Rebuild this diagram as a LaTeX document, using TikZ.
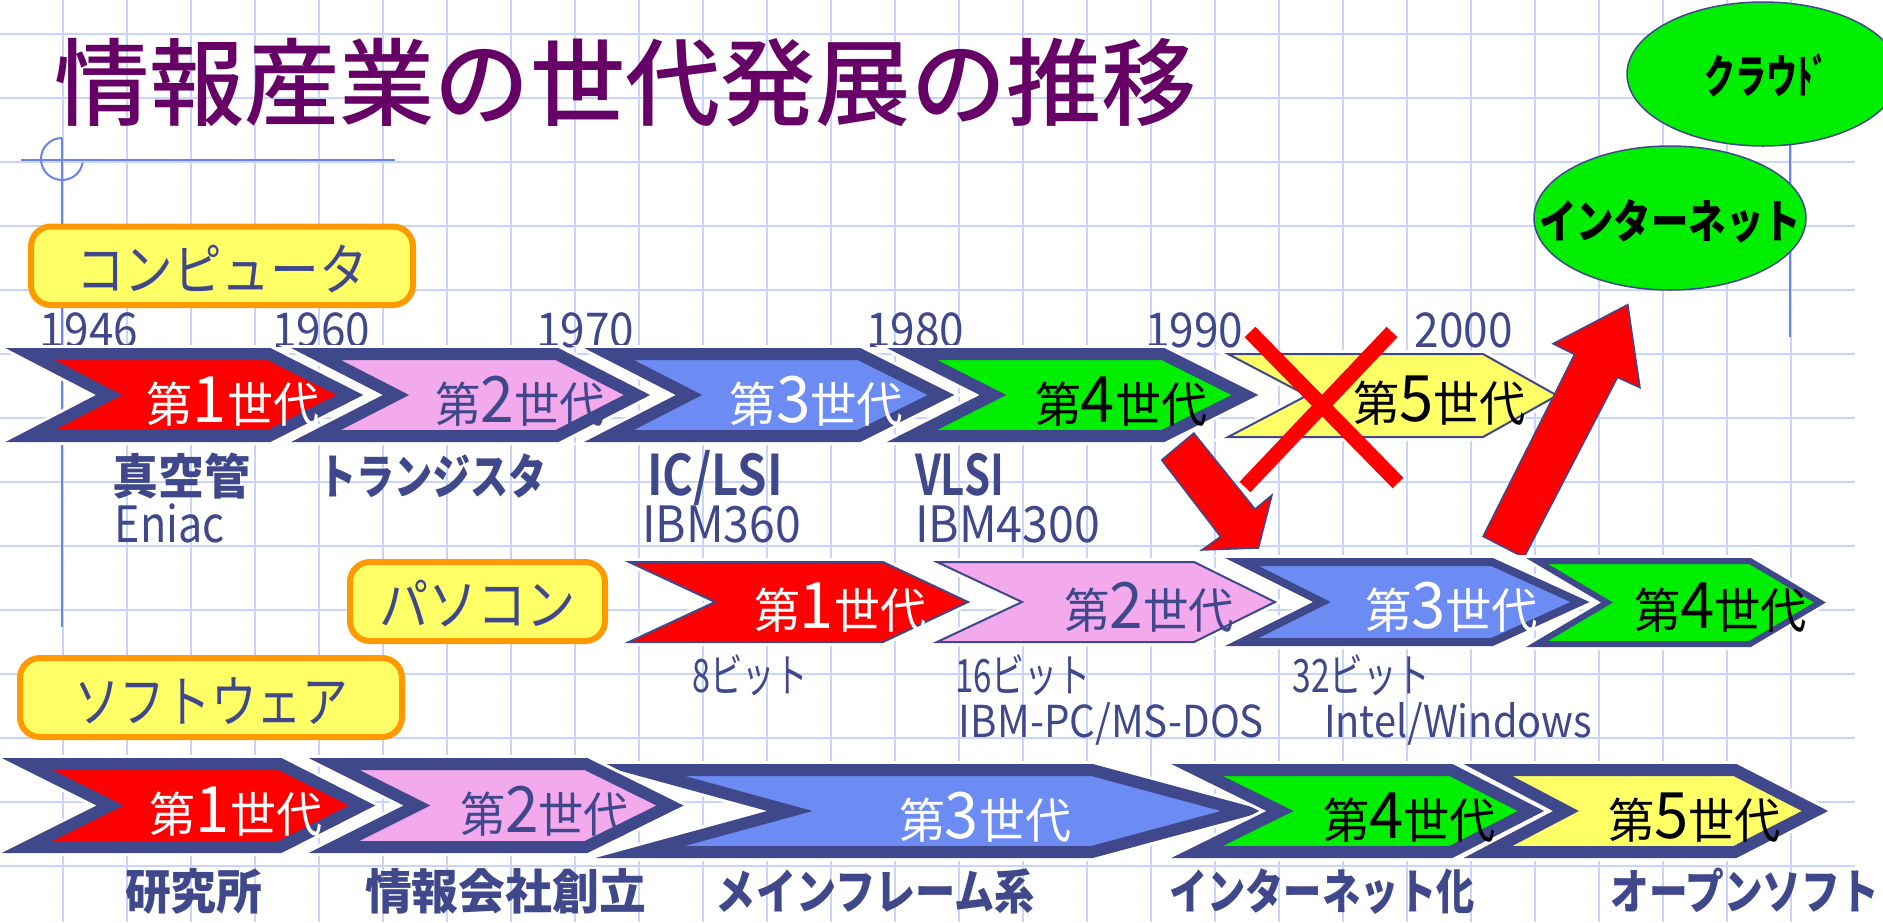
\documentclass[tikz,border=0pt]{standalone}
\usepackage{fontspec}
\setmainfont{Noto Sans CJK JP}[BoldFont={Noto Sans CJK JP Bold}]
\newfontfamily\heavy{Noto Sans CJK JP Black}
\newfontfamily\medw{Noto Sans CJK JP Medium}
\definecolor{navy}{HTML}{40488C}
\definecolor{cred}{HTML}{FF0000}
\definecolor{cpink}{HTML}{F2AAEC}
\definecolor{cblue}{HTML}{6C8CF4}
\definecolor{cgreen}{HTML}{00EE00}
\definecolor{cyel}{HTML}{FFFF66}
\definecolor{corange}{HTML}{FF9900}
\definecolor{gridc}{HTML}{C8D4F8}
\definecolor{deco}{HTML}{6B84E8}
\definecolor{ttl}{HTML}{660066}
\newcommand{\fw}[2]{\resizebox{#1pt}{\height}{#2}}
\newcommand{\gen}[1]{{\fontsize{48}{48}\selectfont 第}{\fontsize{64}{64}\selectfont #1}{\fontsize{48}{48}\selectfont 世代}}
% #1 fill, #2 line width, #3 xl, #4 xnotch, #5 xr, #6 xtip, #7 ytop, #8 ybottom
\newcommand{\chevshape}[8]{%
  \draw[white, line width=#2+6pt, line join=miter] (#3,#7) -- (#5,#7) -- (#6,{(#7+#8)/2}) -- (#5,#8) -- (#3,#8) -- (#4,{(#7+#8)/2}) -- cycle;
  \draw[draw=navy, fill=#1, line width=#2, line join=miter] (#3,#7) -- (#5,#7) -- (#6,{(#7+#8)/2}) -- (#5,#8) -- (#3,#8) -- (#4,{(#7+#8)/2}) -- cycle;
}
\begin{document}
\begin{tikzpicture}[x=1pt,y=-1pt,
  lbl/.style={inner sep=0pt, anchor=base, text=navy},
  catbox/.style={draw=corange, fill=cyel, line width=6pt, rounded corners=20pt},
  redarrow/.style={draw=navy, fill=cred, line width=1.5pt, line join=miter},
  bigx/.style={draw=cred, line width=15pt},
  bubble/.style={draw=navy, fill=cgreen, line width=1.5pt}]
\useasboundingbox (0,0) rectangle (1883,922);
\fill[white] (0,0) rectangle (1883,922);
% grid
\foreach \k in {1,...,28} \draw[gridc, line width=2pt] ({-1.5+64*\k},0) -- ({-1.5+64*\k},922);
\foreach \k in {0,...,13} \draw[gridc, line width=2pt] (0,{33.5+64*\k}) -- (1854.5,{33.5+64*\k});
% decorations
\draw[deco, line width=2pt] (62,138) -- (62,627);
\draw[deco, line width=2pt] (21,160) -- (395,160);
\draw[deco, line width=2pt] (62,138) arc[start angle=270, end angle=10, radius=21];
\draw[deco, line width=2pt] (1790,100) -- (1790,337);
% title
\node[inner sep=0pt, anchor=base, text=ttl] (title) at (625.5,118) {\fw{1143}{\medw\fontsize{95}{95}\selectfont 情報産業の世代発展の推移}};
% category boxes
\draw[catbox] (31,226.5) rectangle (413,305);
\node[lbl, font=\fontsize{56}{56}\selectfont] (comp) at (222,290) {\fw{292}{コンピュータ}};
\draw[catbox] (350,562) rectangle (605,641);
\node[lbl, font=\fontsize{56}{56}\selectfont] (pc) at (477.5,625) {\fw{197}{パソコン}};
\draw[catbox] (20,658) rectangle (402,737);
\node[lbl, font=\fontsize{56}{56}\selectfont] (soft) at (211,722) {\fw{274}{ソフトウェア}};
% years
\foreach \xx/\yy in {89/1946, 321/1960, 585/1970, 915/1980, 1194/1990, 1463.5/2000}
  \node[lbl, font=\fontsize{48}{48}\selectfont] (y\yy) at (\xx,347) {\fw{98}{\yy}};
% top row (computer)
\chevshape{cyel}{2pt}{1228}{1307}{1483}{1557}{354}{437}
\chevshape{cred}{12pt}{30}{109}{269}{350}{354}{436}
\chevshape{cpink}{12pt}{316}{396}{557}{637}{354}{436}
\chevshape{cblue}{12pt}{609}{689}{859}{941}{354}{436}
\chevshape{cgreen}{12pt}{912}{993}{1163}{1245}{354}{436}
\node[lbl, text=white] (c1) at (233,422) {\fw{172}{\gen{1}}};
\node[lbl] (c2) at (520,422) {\fw{170}{\gen{2}}};
\node[lbl, text=white] (c3) at (816.5,422) {\fw{174}{\gen{3}}};
\node[lbl, text=black] (c4) at (1121,422) {\fw{172}{\gen{4}}};
\node[lbl, text=black] (c5) at (1439.5,421) {\fw{173}{\gen{5}}};
% cross
\draw[bigx] (1250,332) -- (1398,483);
\draw[bigx] (1392,332) -- (1245,487);
% computer labels
\node[lbl, font=\heavy\fontsize{48}{48}\selectfont] (l1) at (181,494) {\fw{138}{真空管}};
\node[lbl, font=\heavy\fontsize{48}{48}\selectfont] (l2) at (432.5,494) {\fw{229}{トランジスタ}};
\node[lbl, font=\bfseries\fontsize{56}{56}\selectfont] (l3) at (715,495) {\fw{136}{IC/LSI}};
\node[lbl, font=\bfseries\fontsize{56}{56}\selectfont] (l4) at (959.5,495) {\fw{89}{VLSI}};
\node[lbl, font=\fontsize{50}{50}\selectfont] (e1) at (170,542) {\fw{110}{Eniac}};
\node[lbl, font=\fontsize{50}{50}\selectfont] (e3) at (721.5,542) {\fw{159}{IBM360}};
\node[lbl, font=\fontsize{50}{50}\selectfont] (e4) at (1007.5,542) {\fw{185}{IBM4300}};
% red block arrows
\draw[redarrow] (1161.6,460) -- (1193.8,433) -- (1255,509) -- (1272,495) -- (1258.5,548) -- (1201.8,550) -- (1220.5,536.7) -- cycle;
\draw[redarrow] (1483,536.4) -- (1524,557.5) -- (1617.5,377.4) -- (1640,387.7) -- (1627.8,304.6) -- (1553,343.7) -- (1574.5,354.4) -- cycle;
% PC row
\chevshape{cred}{2pt}{629}{715}{883}{968}{562}{642}
\chevshape{cpink}{2pt}{937}{1022}{1194}{1275}{562}{642}
\chevshape{cblue}{8pt}{1242}{1322}{1492}{1580}{562}{642}
\chevshape{cgreen}{6pt}{1537}{1607}{1750}{1820}{561}{644}
\node[lbl, text=white] (p1) at (840,628) {\fw{172}{\gen{1}}};
\node[lbl] (p2) at (1149,628) {\fw{170}{\gen{2}}};
\node[lbl, text=white] (p3) at (1451.5,628) {\fw{173}{\gen{3}}};
\node[lbl, text=black] (p4) at (1720.5,628) {\fw{173}{\gen{4}}};
\node[lbl, font=\fontsize{46}{46}\selectfont] (b8) at (750,692) {\fw{115}{8ビット}};
\node[lbl, font=\fontsize{46}{46}\selectfont] (b16) at (1023,692) {\fw{136}{16ビット}};
\node[lbl, font=\fontsize{46}{46}\selectfont] (b32) at (1361.5,692) {\fw{138}{32ビット}};
\node[lbl, font=\fontsize{44}{44}\selectfont] (dos) at (1111.5,737) {\fw{305}{IBM-PC/MS-DOS}};
\node[lbl, font=\fontsize{44}{44}\selectfont] (win) at (1458,737) {\fw{268}{Intel/Windows}};
% software row
\chevshape{cred}{12pt}{27}{110}{280}{362}{764}{847}
\chevshape{cblue}{12pt}{640}{790}{1092}{1244}{770}{852}
\chevshape{cpink}{12pt}{334}{417}{586}{670}{764}{847}
\chevshape{cgreen}{12pt}{1197}{1280}{1451}{1531}{770}{852}
\chevshape{cyel}{12pt}{1488}{1566}{1735}{1815}{770}{852}
\node[lbl, text=white] (s1) at (236,832) {\fw{172}{\gen{1}}};
\node[lbl] (s2) at (544.5,832) {\fw{169}{\gen{2}}};
\node[lbl, text=white] (s3) at (985,838) {\fw{172}{\gen{3}}};
\node[lbl, text=black] (s4) at (1409.5,838) {\fw{173}{\gen{4}}};
\node[lbl, text=black] (s5) at (1694.5,838) {\fw{173}{\gen{5}}};
\node[lbl, font=\heavy\fontsize{48}{48}\selectfont] (w1) at (193.75,909) {\fw{137.5}{研究所}};
\node[lbl, font=\heavy\fontsize{48}{48}\selectfont] (w2) at (505.5,909) {\fw{281}{情報会社創立}};
\node[lbl, font=\heavy\fontsize{48}{48}\selectfont] (w3) at (875.5,909) {\fw{319}{メインフレーム系}};
\node[lbl, font=\heavy\fontsize{48}{48}\selectfont] (w4) at (1322,909) {\fw{306}{インターネット化}};
\node[lbl, font=\heavy\fontsize{48}{48}\selectfont] (w5) at (1744.75,909) {\fw{268.5}{オープンソフト}};
% bubbles
\draw[bubble] (1763,74) ellipse[x radius=136, y radius=72];
\draw[bubble] (1670,218) ellipse[x radius=136, y radius=72];
\node[inner sep=0pt, anchor=base, font=\heavy\fontsize{46}{46}\selectfont] (cloud) at (1766,93) {\fw{124}{クラウﾄﾞ}};
\node[inner sep=0pt, anchor=base, font=\heavy\fontsize{46}{46}\selectfont] (inet) at (1670,238) {\fw{262}{インターネット}};
\end{tikzpicture}
\end{document}
